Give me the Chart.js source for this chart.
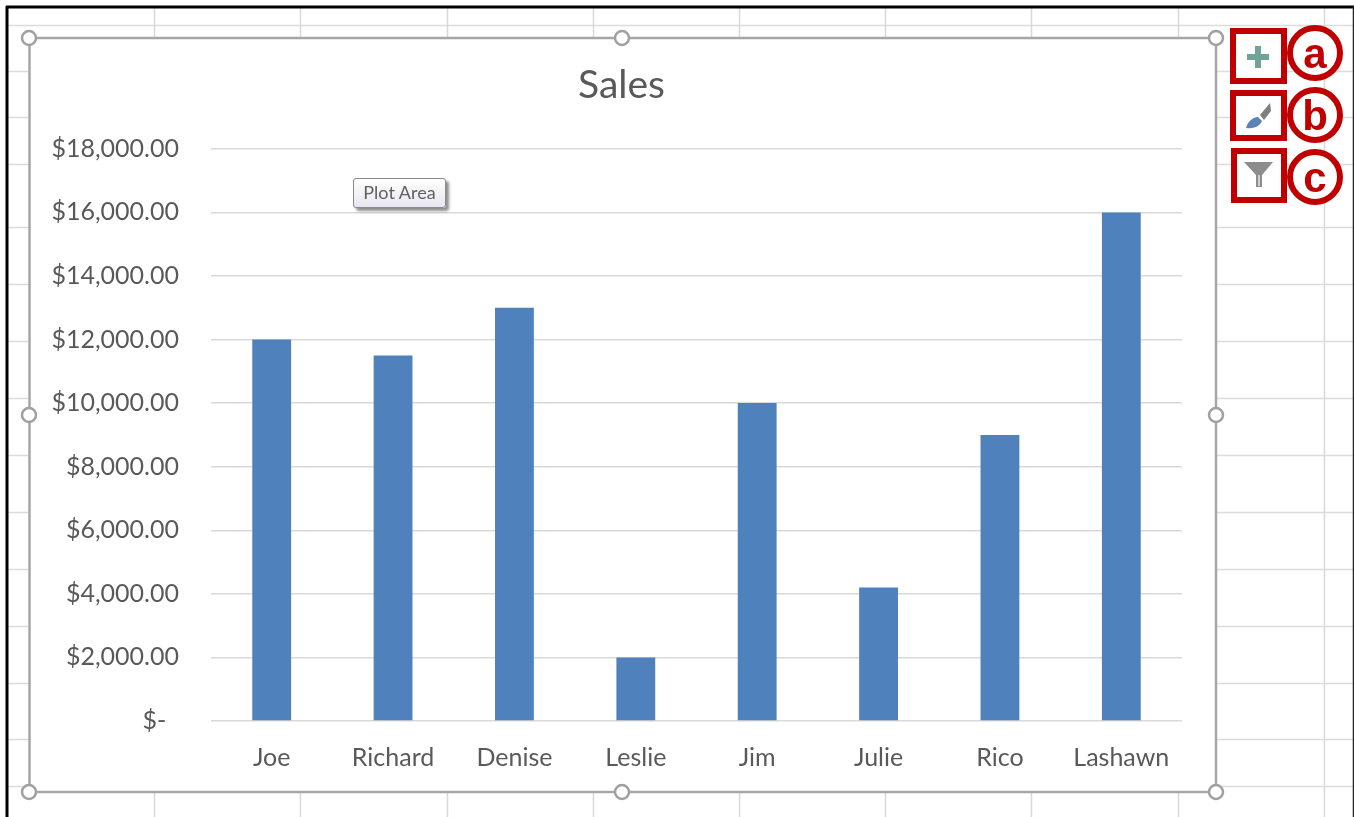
<!DOCTYPE html>
<html>
<head>
<meta charset="utf-8">
<title>Sales</title>
<script src="https://cdn.jsdelivr.net/npm/chart.js@4"></script>
<style>
  html, body { margin: 0; padding: 0; background: #fff; overflow: hidden; }
  #page { position: relative; width: 1354px; height: 817px; overflow: hidden; }
  #sheet, #overlay { position: absolute; left: 0; top: 0; }
  #chartBox { position: absolute; left: 30px; top: 38px; width: 1186px; height: 754px; background: #fff; }
  /* canvas starts at the page edge, its centre is the chart box centre */
  #chart { position: absolute; left: 0; top: 38px; }
  #plotTip {
    position: absolute; left: 353px; top: 178px; width: 91px; height: 28px; line-height: 27px;
    border: 1px solid #8a8a8a; border-radius: 3px; text-align: center;
    font: 18px/27px Lato, sans-serif; color: #5f5f5f;
    background: linear-gradient(#ffffff, #e6e6f0); box-shadow: 3px 3px 3px #8f8f8f;
  }
</style>
</head>
<body>
<div id="page">
  <svg id="sheet" width="1354" height="817"></svg>
  <div id="chartBox"></div>
  <canvas id="chart" width="1243" height="754"></canvas>
  <svg id="overlay" width="1354" height="817"></svg>
  <div id="plotTip">Plot Area</div>
</div>
<script>
// Chart data
const categories = ['Joe', 'Richard', 'Denise', 'Leslie', 'Jim', 'Julie', 'Rico', 'Lashawn'];
const sales = [12000, 11500, 13000, 2000, 10000, 4200, 9000, 16000];
const tickValues = [0, 2000, 4000, 6000, 8000, 10000, 12000, 14000, 16000, 18000];
const tickLabels = ['$-  ', '$2,000.00', '$4,000.00', '$6,000.00', '$8,000.00', '$10,000.00', '$12,000.00', '$14,000.00', '$16,000.00', '$18,000.00'];

// Worksheet cell lines behind the chart
const sheetRows = [25, 71, 117, 164, 227, 284, 341, 398, 455, 512, 569, 626, 683, 739, 786];
const sheetCols = [154, 300, 447, 593, 739, 885, 1031, 1178, 1324];

const TEXT = '#595959';
const GRID = '#d9d9d9';
const RED = '#c00000';
const SVG_NS = 'http://www.w3.org/2000/svg';

function add(svg, tag, attrs, text) {
  const el = document.createElementNS(SVG_NS, tag);
  for (const k in attrs) el.setAttribute(k, attrs[k]);
  if (text) el.textContent = text;
  svg.appendChild(el);
}

// --- Worksheet background ---
const sheet = document.getElementById('sheet');
sheetRows.forEach(y => add(sheet, 'line', { x1: 8, x2: 1353, y1: y + 0.5, y2: y + 0.5, stroke: '#dcdcdc', 'stroke-width': 1.5 }));
sheetCols.forEach(x => add(sheet, 'line', { x1: x + 0.5, x2: x + 0.5, y1: 8, y2: 817, stroke: '#d8d8d8', 'stroke-width': 1.5 }));

// --- Chart ---
new Chart(document.getElementById('chart'), {
  type: 'bar',
  data: {
    labels: categories,
    datasets: [{
      label: 'Sales',
      data: sales,
      backgroundColor: '#4f81bd',
      barPercentage: 1,
      categoryPercentage: 0.32,
    }],
  },
  options: {
    responsive: false,
    animation: false,
    devicePixelRatio: 1,
    plugins: {
      legend: { display: false },
      tooltip: { enabled: false },
      title: {
        display: true,
        text: 'Sales',
        color: TEXT,
        font: { family: 'Lato', size: 39, weight: 'normal' },
        padding: { top: 24, bottom: 40 },
      },
    },
    scales: {
      x: {
        grid: { display: false },
        border: { display: false },
        ticks: { color: TEXT, font: { family: 'Lato', size: 25 }, padding: 14, maxRotation: 0, autoSkip: false },
        afterFit(scale) { scale.height = 71; },
      },
      y: {
        min: 0,
        max: 18000,
        afterBuildTicks(scale) { scale.ticks = tickValues.map(value => ({ value })); },
        grid: { color: GRID, lineWidth: 1.5, drawTicks: false },
        border: { display: false },
        ticks: {
          color: TEXT,
          font: { family: 'Lato', size: 25 },
          padding: 32,
          callback(value) { return tickLabels[tickValues.indexOf(value)]; },
        },
        afterFit(scale) { scale.width = 211; },
      },
      // empty axis: only keeps the plot clear on the right, the title stays centred on the canvas
      spacer: {
        position: 'right',
        grid: { display: false },
        border: { display: false },
        ticks: { display: false },
        afterFit(scale) { scale.width = 61; },
      },
    },
  },
});

// --- Selection frame, handles and callouts ---
const overlay = document.getElementById('overlay');
const frameStyle = { fill: 'none', stroke: '#a6a6a6', 'stroke-width': 2.5 };
add(overlay, 'rect', { x: 29.5, y: 38, width: 1186.5, height: 754, ...frameStyle });
[[29, 38], [622, 38], [1216, 38], [29, 415], [1216, 415], [29, 792], [622, 792], [1216, 792]].forEach(([cx, cy]) =>
  add(overlay, 'circle', { cx, cy, r: 7, fill: '#fff', stroke: '#a0a0a0', 'stroke-width': 2.5 }));

// Screenshot border
add(overlay, 'line', { x1: 7, x2: 7, y1: 6, y2: 817, stroke: '#000', 'stroke-width': 3 });
add(overlay, 'line', { x1: 6, x2: 1354, y1: 7, y2: 7, stroke: '#000', 'stroke-width': 3 });
add(overlay, 'line', { x1: 1353.5, x2: 1353.5, y1: 6, y2: 817, stroke: '#222', 'stroke-width': 1.5 });

// Chart buttons
[[1233, 31, 51, 50], [1233, 93, 51, 45], [1234, 151, 50, 49]].forEach(([x, y, width, height]) =>
  add(overlay, 'rect', { x, y, width, height, fill: '#fff', stroke: RED, 'stroke-width': 6 }));
add(overlay, 'path', { d: 'M1255 46h6v8h8v6h-8v8h-6v-8h-8v-6h8z', fill: '#6fa595' });
add(overlay, 'path', { d: 'M1246 128c2-7 7-11 12-11l4 4c-2 5-8 8-16 7z', fill: '#5b83b5' });
add(overlay, 'path', { d: 'M1260 115l10-12 1 8-7 9z', fill: '#7f7f7f' });
add(overlay, 'path', { d: 'M1244 162h29l-11 13v12h-6v-12z', fill: '#8c8c8c' });
add(overlay, 'rect', { x: 1258, y: 175, width: 2, height: 11, fill: '#d0d0d0' });

// Lettered circles
[['a', 1315, 53, 68], ['b', 1315, 115, 130], ['c', 1315, 177, 192]].forEach(([letter, cx, cy, base]) => {
  add(overlay, 'circle', { cx, cy, r: 25, fill: '#fff', stroke: RED, 'stroke-width': 6 });
  add(overlay, 'text', { x: cx, y: base, 'text-anchor': 'middle', fill: RED, 'font-family': 'Liberation Sans', 'font-weight': 'bold', 'font-size': 42 }, letter);
});
</script>
</body>
</html>
